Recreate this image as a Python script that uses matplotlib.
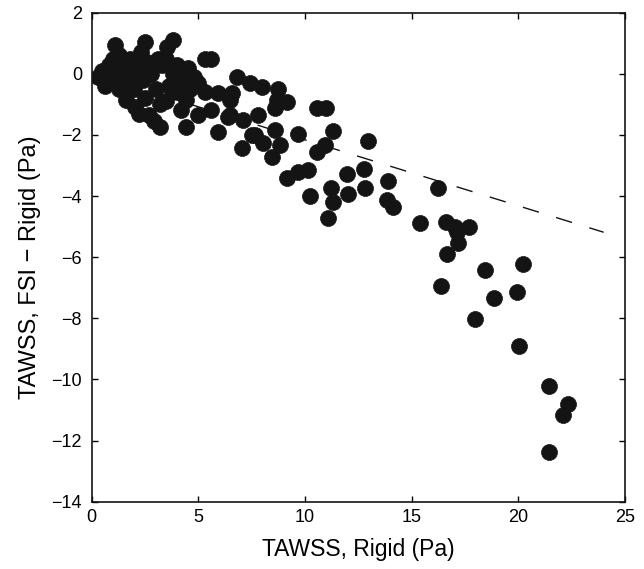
import matplotlib
matplotlib.use("Agg")
from matplotlib import pyplot as plt
from numpy import array

# DATA
# dense cluster near the origin
x_cluster = [1.1, 2.5, 3.8, 3.55, 5.3, 5.6,
             0.3, 0.5, 0.6, 0.8, 1.0, 1.0, 1.2, 1.3, 1.5, 1.6, 1.6, 1.8,
             1.9, 2.0, 2.05, 2.2, 2.3, 2.4, 2.5, 2.6, 2.7, 2.8, 2.9, 3.0,
             3.1, 3.2, 3.3, 3.2, 3.5, 3.8, 3.6, 4.0, 4.2, 4.3, 4.4, 4.4,
             4.6, 4.8, 5.0, 5.0, 5.3, 5.6, 5.9, 5.9, 6.4, 6.5, 6.6,
             1.3, 4.0, 4.5, 3.5, 2.2]
y_cluster = [0.94, 1.05, 1.11, 0.89, 0.48, 0.48,
             -0.1, 0.1, -0.4, 0.3, 0.5, -0.2, 0.1, 0.6, 0.3, -0.2, -0.85, 0.5,
             0.0, -0.5, -1.07, 0.3, 0.7, -0.2, -0.8, 0.4, -1.35, 0.0, -1.56, -0.5,
             0.5, -1.73, 0.3, -1.0, -0.9, 0.0, -0.4, -0.6, -1.2, -0.2, -1.73, -0.86,
             -0.5, -0.1, -0.31, -1.35, -0.6, -1.18, -0.64, -1.89, -1.4, -0.86, -0.64,
             -0.5, 0.3, 0.2, 0.5, -1.3]

# scattered points further out
x_spread = [6.8, 7.4, 7.97, 8.75, 9.14, 8.59, 8.67, 7.11, 7.81, 6.48,
            7.03, 7.5, 7.66, 8.05, 8.44, 8.59, 8.83, 9.14, 9.69, 9.69,
            10.16, 10.23, 10.55, 11.0, 10.55, 10.94, 11.3, 11.06, 11.22, 11.33,
            11.95, 12.03, 12.77, 12.81, 12.97, 13.9, 13.83, 14.14, 15.39, 16.25,
            16.61, 17.03, 17.14, 17.7, 17.16, 16.64, 18.44, 20.21, 16.38, 18.86,
            19.92, 17.97, 20.05, 21.45, 22.35, 22.11, 21.45]
y_spread = [-0.09, -0.31, -0.42, -0.51, -0.91, -1.13, -0.86, -1.51, -1.35, -1.35,
            -2.44, -2.0, -2.0, -2.27, -2.71, -1.84, -2.33, -3.42, -3.2, -1.98,
            -3.15, -3.99, -1.13, -1.13, -2.55, -2.33, -1.87, -4.73, -3.75, -4.18,
            -3.28, -3.93, -3.11, -3.72, -2.19, -3.51, -4.13, -4.35, -4.89, -3.73,
            -4.84, -5.0, -5.19, -5.02, -5.55, -5.9, -6.43, -6.23, -6.94, -7.35,
            -7.13, -8.02, -8.9, -10.21, -10.81, -11.16, -12.38]

# fitted line through origin
fit_x = [0, 24]
fit_slope = -0.216


def main():
    plt.rcParams['font.family'] = ['Liberation Sans', 'DejaVu Sans']

    fig = plt.figure(figsize=(6.44, 5.69), dpi=100)
    ax = fig.add_axes([0.1424, 0.1183, 0.8281, 0.8594])

    xs = array(x_cluster + x_spread)
    ys = array(y_cluster + y_spread)

    fx = array(fit_x)
    ax.plot(fx, fit_slope * fx, color="#141414", linewidth=1.0,
            dashes=(12, 13), zorder=1)
    ax.plot(xs, ys, linestyle="none", marker="o", markersize=11.5,
            markerfacecolor="#141414", markeredgecolor="#141414",
            markeredgewidth=0.5, zorder=2)

    ax.set_xlim(0, 25)
    ax.set_ylim(-14, 2)
    ax.set_xticks([0, 5, 10, 15, 20, 25])
    ax.set_yticks(range(-14, 3, 2))

    ax.tick_params(direction="in", top=True, right=True, length=4,
                   width=1, labelsize=13)
    ax.tick_params(axis="y", pad=7)
    ax.tick_params(axis="x", pad=5)
    for s in ax.spines.values():
        s.set_linewidth(1.2)
        s.set_color("#141414")

    ax.set_xlabel("TAWSS, Rigid (Pa)", fontsize=16.5, labelpad=9)
    ax.set_ylabel("TAWSS, FSI \u2212 Rigid (Pa)", fontsize=17)
    # label sits a touch below the axes centre in the original
    ax.yaxis.set_label_coords(-0.095, 0.48)

    fig.savefig("out.png", dpi=100)


if __name__ == "__main__":
    main()
